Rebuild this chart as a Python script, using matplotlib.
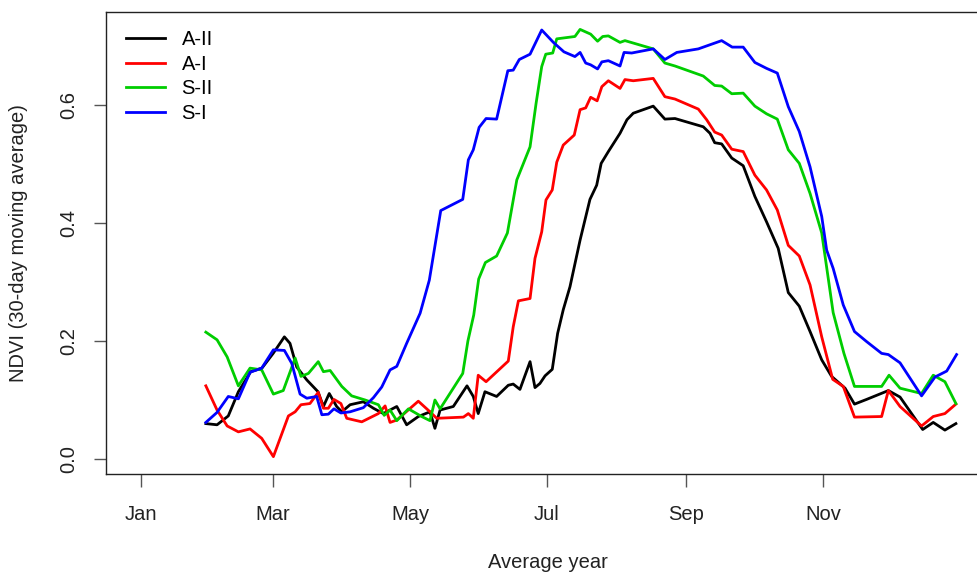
import matplotlib
matplotlib.use("Agg")
import matplotlib.pyplot as plt

plt.rcParams["font.family"] = ["Liberation Sans", "DejaVu Sans"]

# day of year, 30-day moving average NDVI
a2_day = [30, 35, 40, 44.5, 50, 55, 60, 65, 67.5, 70.5, 75, 80, 82.4, 85, 88.3, 90.6,
          94.3, 100.2, 104.7, 109.1, 115.1, 119.5, 124.7, 129.9, 132.1, 134.4, 140.3,
          146.4, 149.2, 151.4, 154.4, 159.6, 164.8, 167.0, 170.0, 174.5, 176.7, 178.9,
          181.2, 184.4, 186.8, 189.3, 192.3, 196.8, 201.2, 204.2, 206.2, 209.4, 214.6,
          217.7, 220.5, 229.4, 234.6, 239.1, 251.7, 254.7, 256.8, 259.9, 264.4, 269.5,
          274.7, 279.9, 285.1, 289.6, 294.5, 299.3, 304.5, 308.9, 314.9, 319.1, 324.5,
          334.2, 339.4, 349.5, 354.2, 359.4, 364.3]
a2_val = [.060, .058, .073, .114, .148, .154, .179, .207, .196, .156, .134, .114, .089, .111,
          .089, .080, .092, .097, .086, .077, .089, .058, .072, .080, .052, .083, .089,
          .124, .106, .077, .114, .106, .125, .127, .118, .165, .121, .128,
          .141, .152, .213, .253, .292, .371, .440, .464, .501, .521, .552,
          .575, .586, .598, .576, .577, .563, .552, .536, .534, .510, .497,
          .445, .402, .357, .282, .259, .216, .168, .140, .120, .093, .101,
          .116, .105, .050, .062, .049, .060]

a1_day = [30, 35, 39.5, 44.5, 49.7, 54.9, 60.1, 66.8, 69.8, 72.4, 76.4, 80.1, 82.4, 84.6,
          87.1, 90.2, 92.8, 99.5, 106.9, 109.9, 112.1, 115.1, 124.7, 129.9, 132.9, 144.8,
          147.0, 149.2, 151.4, 154.9, 164.8, 167.0, 169.3, 174.5, 176.7, 179.7, 181.6,
          184.4, 186.4, 189.3, 194.2, 196.8, 199.3, 201.5, 204.4, 206.5, 209.4, 214.6,
          216.8, 220.5, 229.4, 234.6, 239.1, 249.5, 253.2, 256.8, 259.9, 264.4, 269.5,
          274.7, 279.9, 284.7, 289.6, 294.5, 299.3, 304.5, 309.4, 314.1, 319.1, 331.2,
          334.2, 339.4, 349.0, 354.2, 359.4, 364.3]
a1_val = [.124, .083, .056, .046, .051, .035, .004, .073, .080, .092, .094, .113, .086, .086,
          .101, .094, .069, .063, .077, .090, .062, .066, .098, .080, .069, .071,
          .077, .069, .142, .131, .166, .224, .268, .272, .340, .385, .439,
          .456, .503, .532, .549, .592, .595, .613, .607, .631, .641, .628,
          .643, .641, .645, .614, .610, .593, .575, .554, .549, .525, .521,
          .481, .456, .422, .362, .344, .295, .207, .135, .123, .071, .072,
          .116, .089, .056, .072, .077, .093]

s2_day = [30, 35, 39.5, 44.5, 49.7, 54.9, 60.1, 64.5, 69.8, 72.4, 75.7, 80.1, 82.4, 85.4,
          90.6, 95.0, 101.0, 106.9, 109.5, 112.1, 115.1, 120.3, 126.2, 129.9, 132.1, 134.4,
          144.5, 146.8, 149.4, 151.6, 154.6, 159.6, 164.4, 168.6, 174.5, 177.2, 179.7,
          181.5, 184.6, 186.4, 194.5, 196.8, 201.5, 204.6, 206.9, 209.4, 214.6, 216.8,
          229.4, 234.6, 239.1, 251.7, 256.8, 259.9, 264.4, 269.5, 274.7, 279.9, 284.7,
          289.6, 294.5, 299.3, 304.5, 309.6, 314.4, 319.1, 331.2, 334.5, 339.4, 349.0,
          354.2, 359.4, 364.3]
s2_val = [.215, .202, .173, .124, .154, .151, .110, .116, .171, .140, .145, .165, .148, .150,
          .123, .107, .100, .092, .074, .083, .065, .085, .072, .065, .100, .085,
          .145, .200, .244, .305, .333, .344, .383, .473, .529, .603, .665,
          .686, .688, .712, .716, .728, .720, .708, .716, .717, .706, .709,
          .695, .671, .666, .649, .633, .632, .619, .620, .598, .585, .576,
          .524, .501, .450, .383, .248, .179, .123, .123, .142, .120, .111,
          .142, .131, .094]

s1_day = [30, 35, 40, 44.5, 49.7, 54.9, 60.1, 65.0, 68.3, 72.0, 75.0, 79.4, 81.7, 84.6,
          87.1, 90.2, 94.3, 100.2, 104.7, 108.4, 112.1, 115.1, 119.5, 125.5, 129.6, 134.7,
          144.5, 147.0, 149.2, 151.8, 154.9, 159.6, 164.6, 167.0, 169.7, 174.5, 179.7,
          184.9, 189.6, 194.5, 196.8, 199.3, 201.5, 204.6, 206.5, 209.4, 214.6, 216.4,
          219.8, 229.4, 234.6, 239.9, 249.5, 254.7, 259.9, 264.6, 269.5, 274.7, 279.9,
          284.7, 289.6, 294.5, 299.3, 304.5, 306.7, 309.6, 314.1, 319.1, 324.5, 331.2,
          334.2, 339.4, 349.0, 355.0, 360.2, 364.6]
s1_val = [.062, .079, .106, .102, .147, .154, .185, .184, .162, .110, .103, .106, .075, .076,
          .085, .078, .080, .087, .104, .122, .151, .157, .196, .247, .303, .421,
          .440, .507, .524, .562, .577, .576, .658, .659, .677, .686, .727,
          .706, .690, .682, .689, .671, .668, .661, .673, .675, .666, .689,
          .688, .695, .677, .689, .695, .702, .709, .698, .698, .672, .662,
          .654, .597, .555, .495, .411, .354, .323, .261, .216, .199, .179,
          .177, .163, .107, .139, .149, .177]

series = [
    ("A-II", a2_day, a2_val, "black"),
    ("A-I", a1_day, a1_val, "#FF0000"),
    ("S-II", s2_day, s2_val, "#00CD00"),
    ("S-I", s1_day, s1_val, "#0000FF"),
]

month_days = [1, 60, 121, 182, 244, 305]
month_labels = ["Jan", "Mar", "May", "Jul", "Sep", "Nov"]
y_ticks = [0.0, 0.2, 0.4, 0.6]


def main():
    W, H = 977, 572
    fig = plt.figure(figsize=(W / 100, H / 100), dpi=100)
    # box runs past the right edge of the picture, like the cropped original
    ax = fig.add_axes([106 / W, (H - 474) / H, (990 - 106) / W, (474 - 12.3) / H])

    for name, d, v, c in series:
        ax.plot(d, v, color=c, lw=2.0, label=name, solid_joinstyle="round")

    ax.set_xlim(-14.5, 379.5)
    ax.set_ylim(-0.0254, 0.757)

    ax.set_xticks(month_days)
    ax.set_xticklabels(month_labels)
    ax.set_yticks(y_ticks)
    ax.set_yticklabels([f"{t:.1f}" for t in y_ticks], rotation=90, va="center")

    for s in ax.spines.values():
        s.set_color("#222222")
        s.set_linewidth(1.0)
    ax.tick_params(axis="both", length=9, width=1.0, color="#555555",
                   labelsize=14.5, labelcolor="#222222", pad=11)
    ax.tick_params(axis="x", pad=13)

    ax.set_xlabel("Average year", fontsize=14.5, color="#222222", va="center")
    ax.xaxis.set_label_coords(0.5, (474 - 562) / 461.7)
    ax.set_ylabel("NDVI (30-day moving average)", fontsize=14.5, color="#222222", va="center")
    ax.yaxis.set_label_coords((18 - 106) / 884, 0.5)

    ax.legend(loc="upper left", bbox_to_anchor=(0.0, 1.005), frameon=False,
              fontsize=14.5, handlelength=1.95, handletextpad=0.8,
              labelspacing=0.28, borderaxespad=0.6)

    fig.savefig("out.png", dpi=100)
    plt.close(fig)


if __name__ == "__main__":
    main()
